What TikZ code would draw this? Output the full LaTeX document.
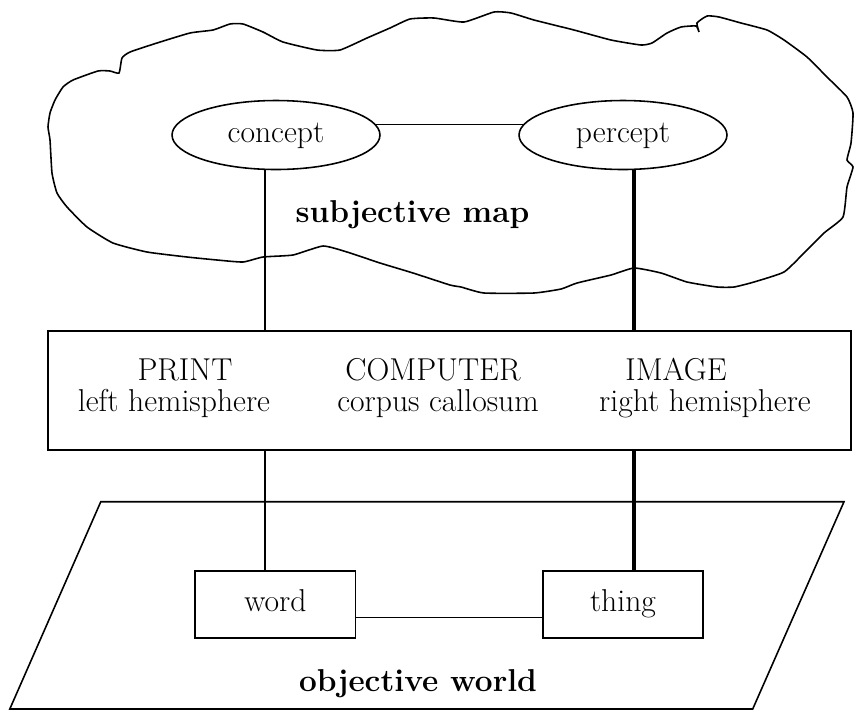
\documentclass[tikz,border=0pt]{standalone}
\usepackage{fontspec}
\usetikzlibrary{shapes.geometric}
\begin{document}
\begin{tikzpicture}[x=0.02cm,y=-0.02cm,line width=0.9pt]
			\def\thick{1.8pt}
			\tikzset{mystyle/.style={draw,shape=ellipse,minimum width=4.16cm,minimum height=1.38cm,inner sep=0pt,text height=0.8em,text depth=0pt,font=\fontsize{18}{22}\selectfont},
				boxstyle/.style={draw,shape=rectangle,minimum width=3.21cm,minimum height=1.35cm,inner sep=0pt,text height=0.8em,text depth=0pt,font=\fontsize{18}{22}\selectfont},
				txt/.style={anchor=base,inner sep=0pt,font=\fontsize{18}{22}\selectfont}}
			\useasboundingbox (0,0) rectangle (854,711);
			% cloud and plane
			\draw plot[smooth cycle,tension=0.3] coordinates {(48,127) (50,113) (55,100) (63,87) (73,80) (98,71) (110,71) (119,73) (122,58) (130,52) (157,43) (190,33) (213,30) (230,24) (243,24) (263,32) (283,42) (317,50) (340,50) (367,38) (390,28) (410,19) (434,18) (464,22) (494,12) (511,13) (534,20) (574,30) (611,40) (641,45) (652,43) (667,33) (681,27) (696,26) (699,32) (697,23) (707,16) (719,17) (741,23) (767,30) (784,40) (807,57) (827,77) (847,97) (853,113) (851,143) (847,160) (853,167) (847,187) (843,217) (824,233) (804,253) (784,272) (754,282) (734,287) (717,287) (687,282) (661,273) (634,268) (611,275) (577,283) (561,289) (534,293) (484,293) (461,287) (450,285) (413,273) (380,263) (347,252) (323,246) (293,255) (263,257) (243,262) (217,260) (187,257) (147,252) (113,243) (87,227) (67,207) (57,193) (52,173) (50,140)};
			\draw (100.8,501.7) -- (844,501.7) -- (752.7,709) -- (9.8,709) -- cycle;
			\node[mystyle] (concept) at (276,135) {concept};
			\node[mystyle] (percept) at (623,135) {percept};
			\node[draw,minimum width=16.06cm,minimum height=2.38cm,inner sep=0pt] (brain) at (449.5,390.5) {};
			\foreach \nm/\x/\y/\txt in {print/185/380/PRINT, lefthem/174/411/left hemisphere, computer/433/380/COMPUTER, callosum/438/411/corpus callosum, image/676/380/IMAGE, righthem/705/411/right hemisphere}{
				\node[txt] (\nm) at (\x,\y) {\txt};
			}
			\node[boxstyle] (word) at (275.4,604.5) {word};
			\node[boxstyle] (thing) at (623,604.5) {thing};
			\node[txt,font=\fontsize{18}{22}\selectfont\bfseries] (subjective) at (412.5,222.7) {subjective map};
			\node[txt,font=\fontsize{18}{22}\selectfont\bfseries] (objective) at (418,691.7) {objective world};
			\coordinate (lx) at (265,0);
			\coordinate (rx) at (634,0);
			\draw (concept.6) -- (percept.174);
			\draw (lx |- concept.south) -- (lx |- brain.north);
			\draw (lx |- brain.south) -- (lx |- word.north);
			\draw[line width=\thick] (rx |- percept.south) -- (rx |- brain.north);
			\draw[line width=\thick] (rx |- brain.south) -- (rx |- thing.north);
			\draw (word.-9) -- (thing.189);
		\end{tikzpicture}
\end{document}
